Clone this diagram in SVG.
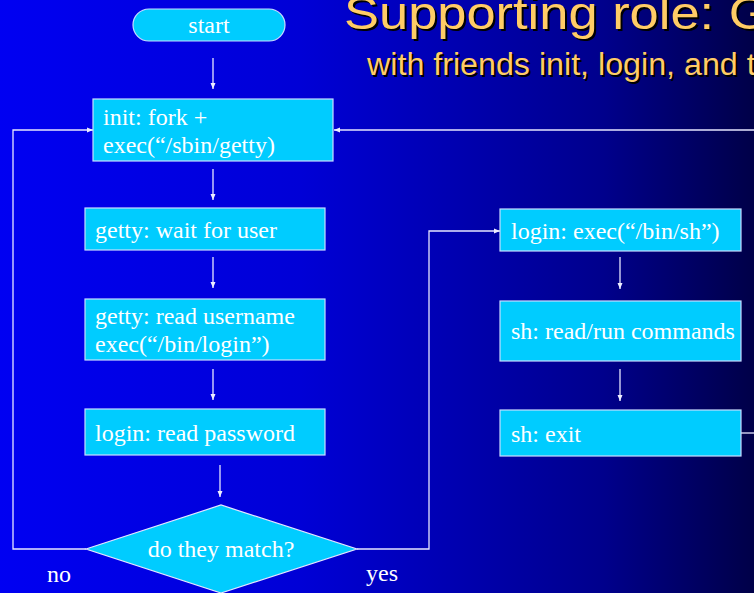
<svg xmlns="http://www.w3.org/2000/svg" width="754" height="593" viewBox="0 0 754 593">
<defs>
<linearGradient id="bg" x1="0" y1="0" x2="1" y2="0">
<stop offset="0" stop-color="#0000F2"/>
<stop offset="0.4" stop-color="#0000D6"/>
<stop offset="0.8" stop-color="#00008C"/>
<stop offset="1" stop-color="#000048"/>
</linearGradient>
<marker id="ah" viewBox="0 0 6 6" refX="6" refY="3" markerWidth="6" markerHeight="6" markerUnits="userSpaceOnUse" orient="auto">
<path d="M0,0.5 L6,3 L0,5.5 z" fill="#EEEEFF"/>
</marker>
</defs>
<style>
.box{fill:#00CCFF;stroke:#C8DCFF;stroke-width:1.2}
.t{font-family:"Liberation Serif","Times New Roman",serif;font-size:24px;fill:#FFFFFF}
.c{fill:none;stroke:#E6E6FF;stroke-width:1.3}
.title{font-family:"Liberation Sans",Arial,sans-serif;fill:#FFCC66}
.shadow{font-family:"Liberation Sans",Arial,sans-serif;fill:#000000}
</style>
<rect x="0" y="0" width="754" height="593" fill="url(#bg)"/>
<g id="title">
<g transform="translate(346,31) scale(1.14,1)"><text class="shadow" x="0" y="0" font-size="46">Supporting role: G</text></g>
<g transform="translate(344,29) scale(1.14,1)"><text class="title" x="0" y="0" font-size="46">Supporting role: G</text></g>
<g transform="translate(369,77) scale(1.04,1)"><text class="shadow" x="0" y="0" font-size="31">with friends init, login, and t</text></g>
<g transform="translate(367,75) scale(1.04,1)"><text class="title" x="0" y="0" font-size="31">with friends init, login, and t</text></g>
</g>
<g id="connectors">
<line class="c" x1="213" y1="58" x2="213" y2="89" marker-end="url(#ah)"/>
<line class="c" x1="213" y1="169" x2="213" y2="200" marker-end="url(#ah)"/>
<line class="c" x1="213" y1="257" x2="213" y2="288" marker-end="url(#ah)"/>
<line class="c" x1="213" y1="369" x2="213" y2="400" marker-end="url(#ah)"/>
<line class="c" x1="220" y1="465" x2="220" y2="497" marker-end="url(#ah)"/>
<polyline class="c" points="86,549 13,549 13,130 93,130" marker-end="url(#ah)"/>
<polyline class="c" points="357,549 429,549 429,231 500,231" marker-end="url(#ah)"/>
<line class="c" x1="620" y1="257" x2="620" y2="289" marker-end="url(#ah)"/>
<line class="c" x1="620" y1="369" x2="620" y2="401" marker-end="url(#ah)"/>
<line class="c" x1="741" y1="433" x2="754" y2="433"/>
<line class="c" x1="754" y1="130" x2="334" y2="130" marker-end="url(#ah)"/>
</g>
<g id="start">
<rect class="box" x="133" y="9" width="152" height="32" rx="16" ry="16"/>
<text class="t" x="209" y="33" text-anchor="middle" font-size="22">start</text>
</g>
<g id="init">
<rect class="box" x="93" y="99" width="240" height="62"/>
<text class="t" x="103" y="125">init: fork +</text>
<text class="t" x="103" y="153">exec(“/sbin/getty)</text>
</g>
<g id="getty-wait">
<rect class="box" x="85" y="208" width="240" height="42"/>
<text class="t" x="95" y="238">getty: wait for user</text>
</g>
<g id="getty-read">
<rect class="box" x="85" y="299" width="240" height="61"/>
<text class="t" x="95" y="324">getty: read username</text>
<text class="t" x="95" y="352">exec(“/bin/login”)</text>
</g>
<g id="login-read">
<rect class="box" x="85" y="409" width="240" height="46"/>
<text class="t" x="95" y="441">login: read password</text>
</g>
<g id="match">
<polygon points="86,549 221,505 357,549 221,593" fill="#00CCFF" stroke="#E6E6FF" stroke-width="1.2"/>
<text class="t" x="221" y="557" text-anchor="middle">do they match?</text>
</g>
<g id="labels">
<text class="t" x="47" y="582">no</text>
<text class="t" x="366" y="581">yes</text>
</g>
<g id="login-exec">
<rect class="box" x="500" y="209" width="241" height="42"/>
<text class="t" x="511" y="239">login: exec(“/bin/sh”)</text>
</g>
<g id="sh-run">
<rect class="box" x="500" y="301" width="241" height="60"/>
<text class="t" x="511" y="339">sh: read/run commands</text>
</g>
<g id="sh-exit">
<rect class="box" x="500" y="410" width="241" height="46"/>
<text class="t" x="511" y="442">sh: exit</text>
</g>
</svg>
